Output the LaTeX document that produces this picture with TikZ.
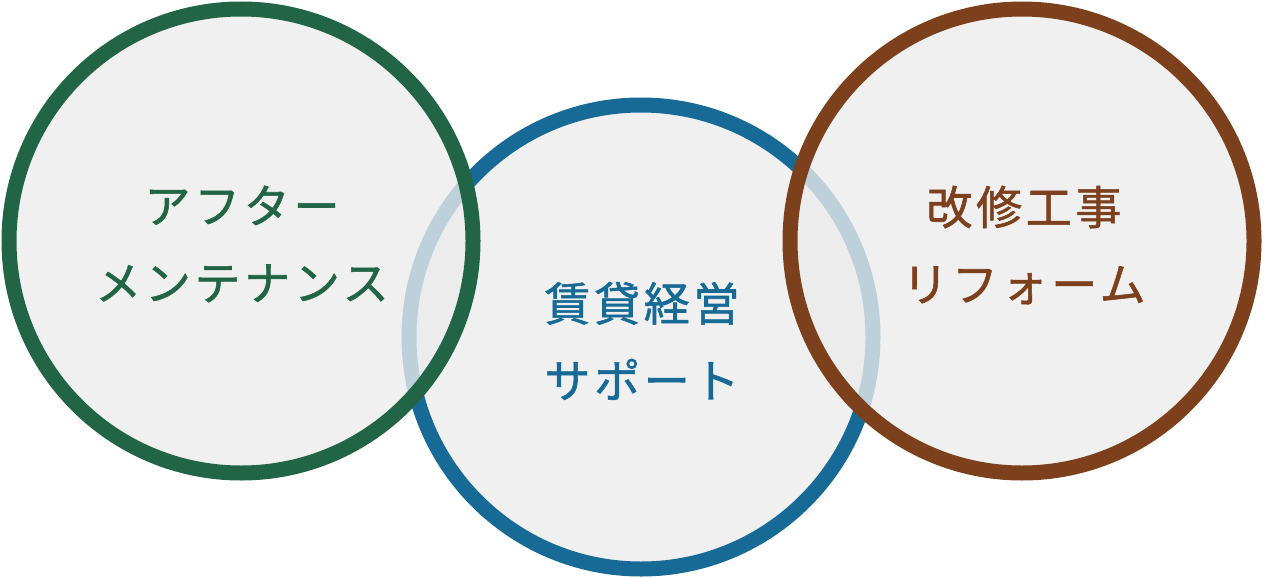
\documentclass[tikz,border=0pt]{standalone}
\usepackage{fontspec}
\newfontfamily\jpfont{Noto Sans CJK JP}[LetterSpace=8,FakeBold=1.2]
\definecolor{cgreen}{RGB}{33,100,70}
\definecolor{cblue}{RGB}{23,106,150}
\definecolor{cbrown}{RGB}{125,64,28}
\definecolor{cfill}{RGB}{240,240,240}
\definecolor{cfillb}{RGB}{236,236,236}
\begin{document}
\begin{tikzpicture}[x=1pt,y=-1pt,
  ring/.style={circle, draw, inner sep=0pt, minimum size=464pt, line width=15pt},
  label/.style={align=center, font=\jpfont\fontsize{46}{77}\selectfont, inner sep=0pt}]
\useasboundingbox (0,0) rectangle (1264,578);
\node[ring, draw=cblue, fill=cfill] (mid) at (641,337) {};
\node[ring, draw=cgreen, fill=cfillb, fill opacity=0.79] (left) at (241,241) {};
\node[ring, draw=cbrown, fill=cfillb, fill opacity=0.79] (right) at (1022,241) {};
\node[label, text=cgreen] (lt) at (242,244) {アフター\\メンテナンス};
\node[label, text=cblue] (mt) at (642,341) {賃貸経営\\サポート};
\node[label, text=cbrown] (rt) at (1024,245) {改修工事\\リフォーム};
\end{tikzpicture}
\end{document}
